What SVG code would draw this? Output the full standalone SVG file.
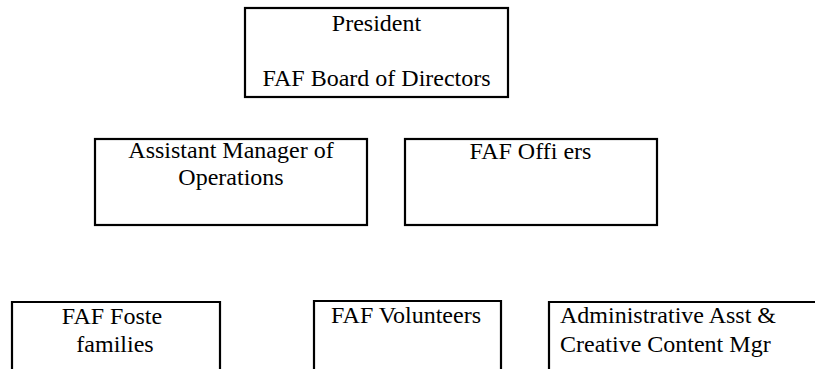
<svg xmlns="http://www.w3.org/2000/svg" width="815" height="369" viewBox="0 0 815 369">
  <style>
    .box { fill: none; stroke: #000; stroke-width: 2.2; }
    .t { font-family: "Liberation Serif", "Times New Roman", serif; font-size: 24px; fill: #000; }
    .c { text-anchor: middle; }
  </style>
  <rect x="0" y="0" width="815" height="369" fill="#fff"/>
  <g id="connectors"></g>
  <g id="president">
    <rect class="box" x="245" y="8" width="263" height="89"/>
    <text class="t c" x="376.5" y="31">President</text>
    <text class="t c" x="376.5" y="86">FAF Board of Directors</text>
  </g>
  <g id="asst-manager">
    <rect class="box" x="95" y="139" width="272" height="86"/>
    <text class="t c" x="231" y="158">Assistant Manager of</text>
    <text class="t c" x="231" y="185">Operations</text>
  </g>
  <g id="officers">
    <rect class="box" x="405" y="139" width="252" height="86"/>
    <text class="t c" x="530.5" y="159">FAF Offi ers</text>
  </g>
  <g id="foster-families">
    <path class="box" d="M12,372 V302 H220 V372"/>
    <text class="t c" x="112" y="324">FAF Foste</text>
    <text class="t c" x="115" y="352">families</text>
  </g>
  <g id="volunteers">
    <path class="box" d="M314,372 V301 H501 V372"/>
    <text class="t c" x="406" y="323">FAF Volunteers</text>
  </g>
  <g id="admin-asst">
    <path class="box" d="M549,372 V302 H818"/>
    <text class="t" x="560" y="323">Administrative Asst &amp;</text>
    <text class="t" x="560" y="352">Creative Content Mgr</text>
  </g>
</svg>
